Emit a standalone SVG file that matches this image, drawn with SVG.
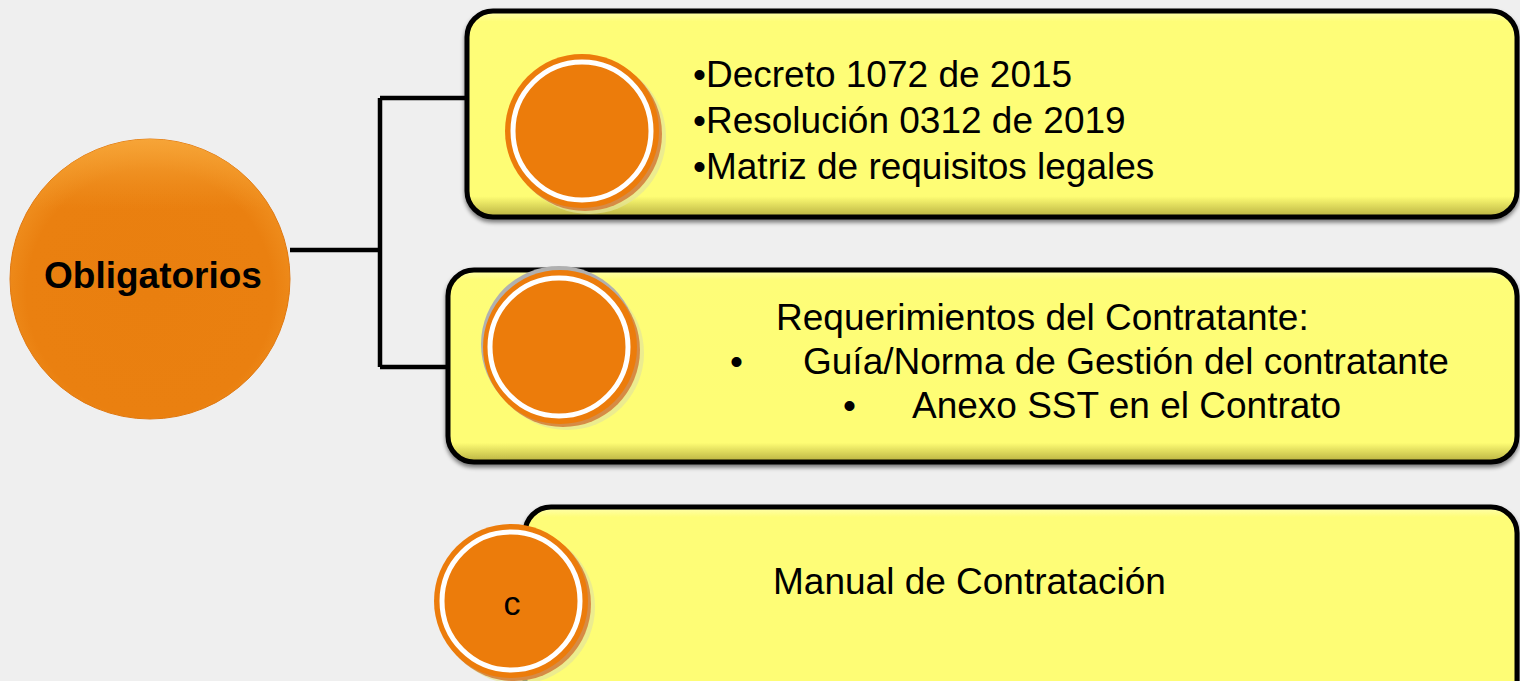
<svg xmlns="http://www.w3.org/2000/svg" width="1520" height="681" viewBox="0 0 1520 681">
<defs>
<radialGradient id="bigG" cx="0.5" cy="0.55" r="0.55">
<stop offset="0" stop-color="#E97F0F"/>
<stop offset="0.8" stop-color="#EA8010"/>
<stop offset="1" stop-color="#F09020"/>
</radialGradient>
<linearGradient id="bigTop" x1="0" y1="0" x2="0" y2="1">
<stop offset="0" stop-color="#F7A73A" stop-opacity="0.9"/>
<stop offset="0.25" stop-color="#F29A2A" stop-opacity="0"/>
</linearGradient>
<linearGradient id="boxG" x1="0" y1="0" x2="0" y2="1">
<stop offset="0" stop-color="#FFFFB0"/>
<stop offset="0.05" stop-color="#FEFD78"/>
<stop offset="0.9" stop-color="#FEFD74"/>
<stop offset="1" stop-color="#B8B040"/>
</linearGradient>
<filter id="sh" x="-10%" y="-10%" width="120%" height="130%">
<feGaussianBlur in="SourceAlpha" stdDeviation="2"/>
<feOffset dx="0" dy="3" result="b"/>
<feComponentTransfer><feFuncA type="linear" slope="0.5"/></feComponentTransfer>
<feMerge><feMergeNode/><feMergeNode in="SourceGraphic"/></feMerge>
</filter>
</defs>
<style>
.box{fill:url(#boxG);stroke:#000;stroke-width:5}
.t{font-family:"Liberation Sans",Arial,sans-serif;font-size:37px;fill:#000}
.ring{fill:#EC7C0B}
.in{fill:#EC7C0B;stroke:#fff;stroke-width:5}
.sha{fill:#D68B45}
.halo{fill:#E4E49A;opacity:0.7}
.con{fill:none;stroke:#000;stroke-width:4.5}
</style>
<rect width="1520" height="681" fill="#EFEFEF"/>
<g id="connectors">
<path class="con" d="M290 250 H380 M380 98 V367 M380 98 H467 M380 367 H448"/>
</g>
<g id="n0">
<circle cx="150" cy="279" r="140" fill="url(#bigG)" stroke="#E07810" stroke-width="1"/>
<circle cx="150" cy="279" r="140" fill="url(#bigTop)"/>
<text x="153" y="288" text-anchor="middle" class="t" font-weight="bold">Obligatorios</text>
</g>
<g id="n1">
<rect class="box" x="467" y="11" width="1050" height="206" rx="26" filter="url(#sh)"/>
<circle class="halo" cx="589" cy="137" r="77"/>
<circle class="sha" cx="585" cy="134" r="77"/>
<circle class="ring" cx="582" cy="131" r="77"/>
<circle class="in" cx="582" cy="131" r="69"/>
<text class="t" x="693" y="87">•Decreto 1072 de 2015</text>
<text class="t" x="693" y="133">•Resolución 0312 de 2019</text>
<text class="t" x="693" y="179">•Matriz de requisitos legales</text>
</g>
<g id="n2">
<rect class="box" x="448" y="270" width="1069" height="192" rx="26" filter="url(#sh)"/>
<circle class="halo" cx="567" cy="353" r="77"/>
<circle fill="#B0B0B0" cx="559" cy="344" r="78"/>
<circle class="sha" cx="563" cy="350" r="77"/>
<circle class="ring" cx="560" cy="347" r="77"/>
<circle class="in" cx="559" cy="347" r="69"/>
<text class="t" x="776" y="330">Requerimientos del Contratante:</text>
<text class="t" x="730" y="374">•</text>
<text class="t" x="803" y="374">Guía/Norma de Gestión del contratante</text>
<text class="t" x="843" y="418">•</text>
<text class="t" x="912" y="418">Anexo SST en el Contrato</text>
</g>
<g id="n3">
<rect class="box" x="525" y="507" width="992" height="200" rx="26" filter="url(#sh)"/>
<circle class="halo" cx="518" cy="607" r="77"/>
<circle class="sha" cx="514" cy="604" r="77"/>
<circle class="ring" cx="511" cy="601" r="77"/>
<circle class="in" cx="511" cy="601" r="69"/>
<text class="t" x="512" y="615" text-anchor="middle" style="font-size:34px">c</text>
<text class="t" x="773" y="594">Manual de Contratación</text>
</g>
</svg>
